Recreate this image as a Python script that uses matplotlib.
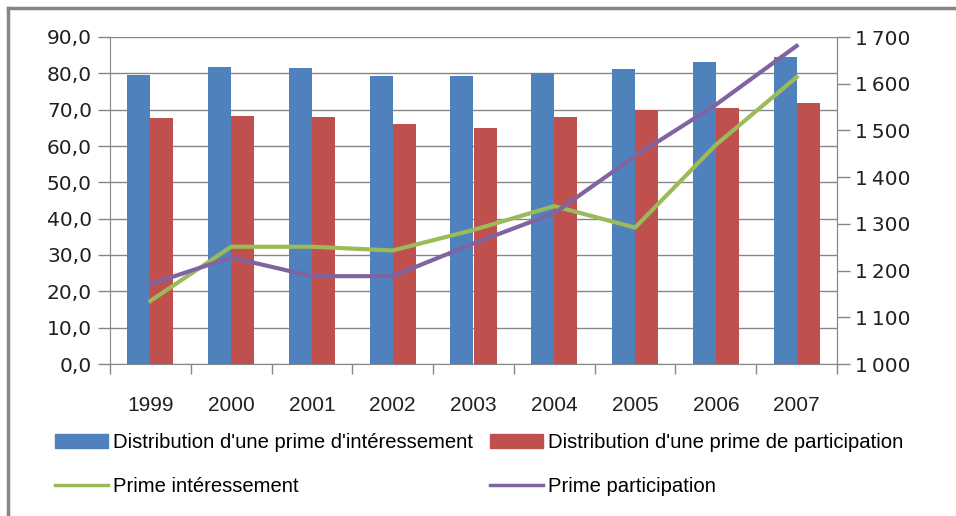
import matplotlib
matplotlib.use("Agg")
import matplotlib.pyplot as plt
import numpy as np
from matplotlib.lines import Line2D
from matplotlib.patches import Patch

years = ["1999", "2000", "2001", "2002", "2003", "2004", "2005", "2006", "2007"]
dist_interessement = [79.5, 81.7, 81.4, 79.2, 79.2, 80.2, 81.1, 83.2, 84.4]
dist_participation = [67.6, 68.2, 67.9, 66.1, 64.9, 67.9, 69.9, 70.4, 71.9]
prime_interessement = [1135, 1251, 1251, 1243, 1287, 1338, 1292, 1469, 1614]
prime_participation = [1171, 1228, 1188, 1188, 1258, 1323, 1445, 1555, 1681]

blue = "#4F81BD"
red = "#C0504D"
green = "#9BBB59"
purple = "#8064A2"
gray = "#868686"
narrow = ["Liberation Sans", "DejaVu Sans"]

fig = plt.figure(figsize=(9.56, 5.16), dpi=100)
ax = fig.add_axes([110 / 956, 1 - 364 / 516, 727 / 956, 327 / 516])
x = np.arange(len(years))
w = 0.285
ax.bar(x - w / 2, dist_interessement, w, color=blue, zorder=2)
ax.bar(x + w / 2, dist_participation, w, color=red, zorder=2)
ax.set_xlim(-0.5, len(years) - 0.5)
ax.set_ylim(0, 90)
ax.set_yticks(np.arange(0, 91, 10))
ax.set_yticklabels(["{:.1f}".format(v).replace(".", ",") for v in np.arange(0, 91, 10)],
                   fontsize=14.5, color="#202020")
ax.yaxis.grid(True, color=gray, lw=1, zorder=0)
ax.set_axisbelow(True)
ax.set_xticks(x)
ax.set_xticklabels(years, fontsize=15, family=narrow, color="#202020")
ax.set_xticks(np.arange(-0.5, len(years), 1), minor=True)
ax.tick_params(axis="x", which="major", length=0, pad=23)
ax.tick_params(axis="x", which="minor", length=7, color=gray, width=1)
ax.tick_params(axis="y", length=9, color=gray, width=1, pad=4)
ax.spines["top"].set_visible(False)
for s in ["left", "bottom", "right"]:
    ax.spines[s].set_color(gray)

ax2 = ax.twinx()
ax2.plot(x, prime_interessement, color=green, lw=3)
ax2.plot(x, prime_participation, color=purple, lw=3)
ax2.set_ylim(1000, 1700)
rt = np.arange(1000, 1701, 100)
ax2.set_yticks(rt)
ax2.set_yticklabels(["{}\u202f{:03d}".format(v // 1000, v % 1000) for v in rt],
                    fontsize=14.5, color="#202020")
ax2.tick_params(axis="y", length=9, color=gray, width=1, pad=4)
for s in ["top", "left", "bottom"]:
    ax2.spines[s].set_visible(False)
ax2.spines["right"].set_color(gray)

handles = [Patch(color=blue), Line2D([], [], color=green, lw=2.5),
           Patch(color=red), Line2D([], [], color=purple, lw=2.5)]
labels = ["Distribution d'une prime d'intéressement", "Prime intéressement",
          "Distribution d'une prime de participation", "Prime participation"]
fig.legend(handles, labels, ncol=2, loc="upper left", bbox_to_anchor=(55 / 956, 1 - 433 / 516),
           frameon=False, prop={"family": narrow, "size": 14.6}, handlelength=2.6,
           handletextpad=0.25, columnspacing=0.85, labelspacing=1.25, borderaxespad=0,
           borderpad=0)

fig.add_artist(Line2D([8 / 956, 1], [1 - 8 / 516, 1 - 8 / 516], color=gray, lw=2.5))
fig.add_artist(Line2D([8 / 956, 8 / 956], [0, 1 - 8 / 516], color=gray, lw=2.5))

fig.savefig("out.png", dpi=100)
